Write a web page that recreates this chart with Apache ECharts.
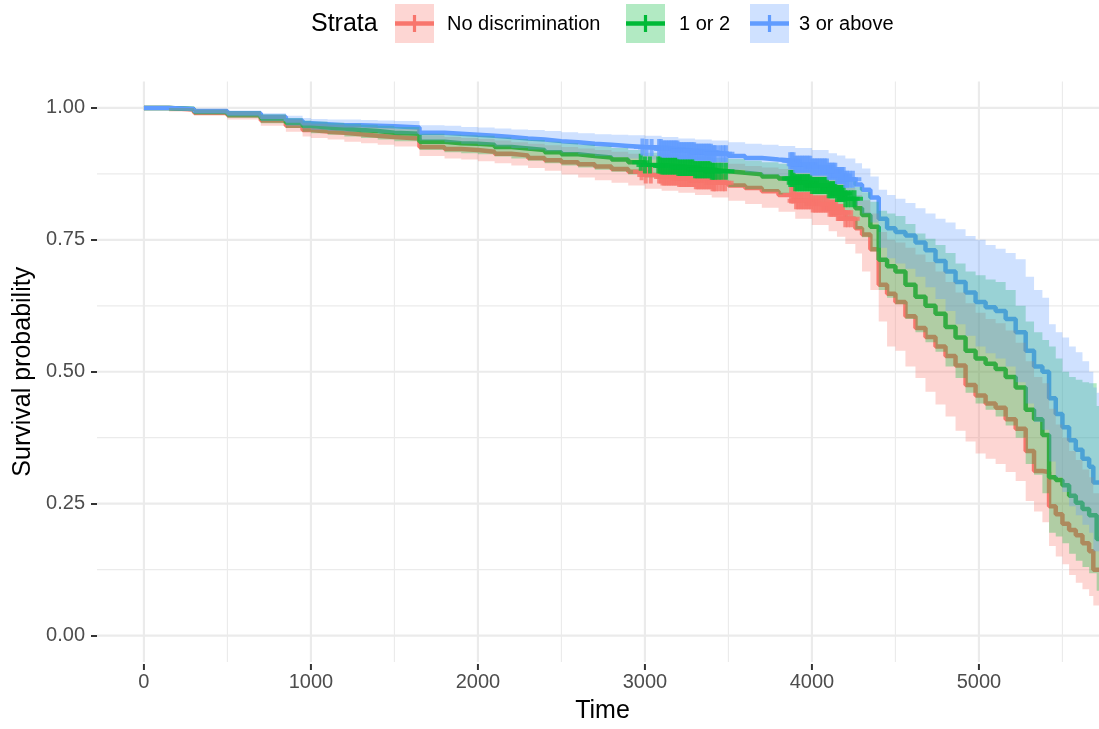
<!DOCTYPE html>
<html>
<head>
<meta charset="utf-8">
<script src="https://cdn.jsdelivr.net/npm/echarts@6/dist/echarts.min.js"></script>
<style>
  html, body { margin: 0; padding: 0; background: #ffffff; }
  #chart { width: 1099px; height: 729px; }
</style>
</head>
<body>
<div id="chart"></div>
<script>
// Kaplan-Meier survival by number of discrimination experiences.
// Shared time grid; each stratum has its estimate and 95% band on it.
const times = [0,150,300,500,700,850,950,1000,1100,1200,
  1300,1400,1500,1650,1800,1900,2000,2100,2200,2300,
  2400,2500,2600,2700,2800,2900,3000,3100,3200,3300,
  3400,3500,3600,3700,3800,3900,4000,4100,4150,4200,
  4260,4300,4350,4400,4450,4500,4560,4620,4680,4740,
  4800,4860,4920,4980,5040,5100,5160,5220,5280,5330,
  5380,5420,5460,5500,5540,5580,5620,5660,5685,5705,
  5760];

const survNone = [1,0.997,0.991,0.986,0.976,0.966,0.958,0.955,0.953,0.95,
  0.947,0.945,0.942,0.926,0.922,0.92,0.917,0.913,0.91,0.905,
  0.901,0.897,0.893,0.889,0.884,0.879,0.873,0.869,0.866,0.862,
  0.858,0.853,0.848,0.842,0.835,0.824,0.818,0.81,0.802,0.79,
  0.772,0.76,0.732,0.665,0.648,0.632,0.605,0.583,0.566,0.548,
  0.53,0.512,0.475,0.455,0.44,0.432,0.41,0.392,0.35,0.312,
  0.31,0.245,0.23,0.212,0.2,0.19,0.175,0.16,0.125,0.125,
  0.125];
const lowerNone = [1,0.993,0.985,0.978,0.966,0.955,0.946,0.943,0.94,0.936,
  0.933,0.93,0.927,0.909,0.904,0.902,0.899,0.895,0.891,0.886,
  0.881,0.874,0.868,0.863,0.858,0.853,0.847,0.843,0.839,0.835,
  0.83,0.824,0.818,0.811,0.803,0.79,0.778,0.766,0.756,0.742,
  0.724,0.69,0.655,0.595,0.548,0.54,0.51,0.488,0.462,0.438,
  0.415,0.388,0.368,0.345,0.335,0.325,0.31,0.293,0.255,0.235,
  0.215,0.17,0.15,0.135,0.115,0.1,0.088,0.075,0.057,0.057,
  0.057];
const upperNone = [1,1,0.997,0.993,0.986,0.978,0.972,0.97,0.968,0.966,
  0.964,0.962,0.96,0.948,0.945,0.943,0.941,0.938,0.935,0.932,
  0.929,0.926,0.923,0.92,0.917,0.913,0.91,0.907,0.904,0.9,
  0.897,0.894,0.89,0.887,0.884,0.877,0.872,0.864,0.857,0.848,
  0.835,0.825,0.8,0.765,0.75,0.745,0.735,0.722,0.708,0.69,
  0.67,0.65,0.63,0.612,0.6,0.592,0.578,0.555,0.52,0.49,
  0.478,0.43,0.4,0.375,0.35,0.333,0.315,0.3,0.27,0.27,
  0.27];

const survFew = [1,0.998,0.993,0.988,0.98,0.972,0.966,0.963,0.961,0.958,
  0.956,0.953,0.951,0.936,0.933,0.932,0.93,0.926,0.923,0.92,
  0.916,0.912,0.909,0.906,0.902,0.897,0.892,0.89,0.887,0.883,
  0.88,0.877,0.874,0.87,0.866,0.858,0.853,0.845,0.838,0.828,
  0.81,0.797,0.775,0.712,0.7,0.69,0.665,0.642,0.625,0.61,
  0.585,0.565,0.54,0.525,0.515,0.505,0.49,0.47,0.428,0.41,
  0.38,0.3,0.295,0.285,0.265,0.252,0.24,0.228,0.228,0.183,
  0.183];
const lowerFew = [1,0.994,0.987,0.981,0.971,0.962,0.955,0.952,0.949,0.946,
  0.943,0.94,0.937,0.92,0.916,0.914,0.912,0.908,0.904,0.9,
  0.895,0.891,0.887,0.883,0.879,0.874,0.868,0.865,0.862,0.858,
  0.854,0.85,0.846,0.841,0.836,0.827,0.821,0.811,0.803,0.79,
  0.77,0.755,0.728,0.655,0.64,0.628,0.6,0.575,0.556,0.538,
  0.51,0.488,0.46,0.44,0.428,0.415,0.398,0.375,0.325,0.305,
  0.27,0.195,0.188,0.175,0.155,0.142,0.13,0.118,0.118,0.085,
  0.085];
const upperFew = [1,1,0.997,0.994,0.988,0.981,0.976,0.974,0.972,0.97,
  0.968,0.966,0.964,0.951,0.949,0.948,0.947,0.944,0.941,0.939,
  0.936,0.933,0.93,0.927,0.924,0.92,0.915,0.913,0.911,0.908,
  0.905,0.903,0.9,0.897,0.894,0.888,0.884,0.878,0.872,0.864,
  0.85,0.84,0.822,0.805,0.8,0.795,0.78,0.762,0.752,0.74,
  0.725,0.705,0.69,0.683,0.675,0.67,0.655,0.625,0.595,0.575,
  0.56,0.548,0.525,0.5,0.49,0.485,0.48,0.478,0.478,0.435,
  0.435];

const survMany = [1,0.998,0.994,0.99,0.983,0.976,0.971,0.969,0.967,0.967,
  0.966,0.965,0.963,0.953,0.951,0.949,0.947,0.945,0.942,0.94,
  0.937,0.935,0.932,0.93,0.928,0.926,0.925,0.922,0.919,0.916,
  0.913,0.909,0.905,0.902,0.9,0.893,0.888,0.88,0.872,0.865,
  0.855,0.845,0.83,0.79,0.772,0.765,0.758,0.745,0.73,0.71,
  0.69,0.67,0.65,0.632,0.622,0.615,0.6,0.575,0.54,0.51,
  0.5,0.45,0.42,0.395,0.37,0.352,0.335,0.32,0.29,0.29,
  0.29];
const lowerMany = [1,0.995,0.989,0.984,0.975,0.966,0.961,0.958,0.956,0.955,
  0.954,0.952,0.95,0.938,0.935,0.932,0.93,0.927,0.924,0.921,
  0.918,0.915,0.912,0.909,0.907,0.904,0.902,0.898,0.895,0.891,
  0.888,0.883,0.878,0.874,0.871,0.862,0.856,0.846,0.836,0.827,
  0.815,0.8,0.783,0.735,0.715,0.705,0.695,0.68,0.66,0.638,
  0.615,0.59,0.568,0.548,0.535,0.525,0.51,0.48,0.44,0.405,
  0.39,0.33,0.3,0.272,0.245,0.228,0.21,0.195,0.16,0.16,
  0.16];
const upperMany = [1,1,0.998,0.995,0.99,0.985,0.981,0.979,0.978,0.978,
  0.977,0.976,0.975,0.967,0.966,0.964,0.963,0.961,0.959,0.958,
  0.956,0.954,0.952,0.95,0.949,0.948,0.947,0.945,0.942,0.94,
  0.938,0.935,0.932,0.93,0.928,0.924,0.92,0.914,0.91,0.904,
  0.895,0.885,0.87,0.845,0.835,0.828,0.82,0.81,0.8,0.79,
  0.783,0.77,0.757,0.75,0.74,0.733,0.725,0.713,0.68,0.655,
  0.64,0.59,0.575,0.565,0.548,0.537,0.52,0.5,0.47,0.46,
  0.46];

// Censoring times (end of follow-up) for each stratum
const censorNone = [2980,3005,3035,3085,3095,3105,3115,3125,3135,3145,3155,3165,3175,3185,3195,3205,3215,3225,
  3235,3245,3255,3265,3275,3285,3295,3305,3315,3325,3335,3345,3355,3365,3375,3385,3395,3405,3415,3425,3445,3465,3480,
  3875,3885,3895,3905,3915,3925,3935,3945,3955,3965,3975,3985,3995,4005,4015,4025,4035,4045,4055,4065,
  4075,4085,4095,4105,4115,4125,4135,4145,4155,4165,4175,4185,4200,4215,4235];
const censorFew = [2975,3000,3030,3080,3090,3100,3110,3120,3130,3140,3150,3160,3170,3180,3190,3200,3210,3220,
  3230,3240,3250,3260,3270,3280,3290,3300,3310,3320,3330,3340,3350,3360,3370,3380,3390,3400,3410,3420,3440,3460,3485,
  3870,3880,3890,3900,3910,3920,3930,3940,3950,3960,3970,3980,3990,4000,4010,4020,4030,4040,4050,4060,
  4070,4080,4090,4100,4110,4120,4130,4140,4150,4160,4170,4180,4190,4200,4215,4235,4255];
const censorMany = [2985,3010,3040,3085,3095,3105,3115,3125,3135,3145,3155,3165,3175,3185,3195,3205,3215,3225,
  3235,3245,3255,3265,3275,3285,3295,3305,3315,3325,3335,3345,3355,3365,3375,3385,3395,3405,3415,3425,3450,3470,3485,
  3870,3880,3890,3900,3910,3920,3930,3940,3950,3960,3970,3980,3990,4000,4010,4020,4030,4040,4050,4060,
  4070,4080,4090,4100,4110,4120,4130,4140,4150,4160,4170,4180,4190,4200,4210,4225,4245];

const strataNames = ['No discrimination', '1 or 2', '3 or above'];
const xTicks = [0, 1000, 2000, 3000, 4000, 5000];
const xMinorTicks = [500, 1500, 2500, 3500, 4500, 5500];
const yTicks = [0, 0.25, 0.5, 0.75, 1];
const yTickLabels = ['0.00', '0.25', '0.50', '0.75', '1.00'];
const yMinorTicks = [0.125, 0.375, 0.625, 0.875];

const palette = ['#F8766D', '#00BA38', '#619CFF'];
const FONT = '"Liberation Sans", Arial, Helvetica, sans-serif';

const strata = [
  { name: strataNames[0], surv: survNone, lower: lowerNone, upper: upperNone, censor: censorNone },
  { name: strataNames[1], surv: survFew, lower: lowerFew, upper: upperFew, censor: censorFew },
  { name: strataNames[2], surv: survMany, lower: lowerMany, upper: upperMany, censor: censorMany }
];

function rgba(hex, a) {
  const n = parseInt(hex.slice(1), 16);
  return 'rgba(' + ((n >> 16) & 255) + ',' + ((n >> 8) & 255) + ',' + (n & 255) + ',' + a + ')';
}

// survival value in effect at time t (right-continuous step function)
function survAt(surv, t) {
  let v = surv[0];
  for (let i = 0; i < times.length; i++) {
    if (times[i] <= t) v = surv[i]; else break;
  }
  return v;
}

function gridLineSeries(values, vertical, width) {
  return {
    type: 'custom', silent: true, z: 0,
    data: values.map(v => vertical ? [v, 0] : [0, v]),
    renderItem: function (params, api) {
      const cs = params.coordSys;
      if (vertical) {
        const x = api.coord([api.value(0), 0])[0];
        return { type: 'line', shape: { x1: x, y1: cs.y, x2: x, y2: cs.y + cs.height },
          style: { stroke: '#EBEBEB', lineWidth: width } };
      }
      const y = api.coord([0, api.value(1)])[1];
      return { type: 'line', shape: { x1: cs.x, y1: y, x2: cs.x + cs.width, y2: y },
        style: { stroke: '#EBEBEB', lineWidth: width } };
    }
  };
}

function bandSeries(s, color) {
  return {
    type: 'custom', silent: true, z: 3, name: s.name + ' CI',
    data: [[0, 1]],
    renderItem: function (params, api) {
      const pts = [];
      const n = times.length;
      for (let i = 0; i < n; i++) {
        const nx = i + 1 < n ? times[i + 1] : times[i];
        pts.push(api.coord([times[i], s.upper[i]]), api.coord([nx, s.upper[i]]));
      }
      for (let i = n - 1; i >= 0; i--) {
        const nx = i + 1 < n ? times[i + 1] : times[i];
        pts.push(api.coord([nx, s.lower[i]]), api.coord([times[i], s.lower[i]]));
      }
      return { type: 'polygon', shape: { points: pts }, style: { fill: rgba(color, 0.3) } };
    }
  };
}

// "+" censor mark
const plusPath = 'path://M-2,-8.5H2V-2H8.5V2H2V8.5H-2V2H-8.5V-2H-2Z';

const series = [
  gridLineSeries(xMinorTicks, true, 1.2),
  gridLineSeries(yMinorTicks, false, 1.2),
  gridLineSeries(xTicks, true, 2.2),
  gridLineSeries(yTicks, false, 2.2)
];
strata.forEach((s, k) => {
  series.push({
    type: 'line', name: s.name, step: 'end', z: 2, silent: true,
    showSymbol: false, symbol: 'none',
    lineStyle: { color: palette[k], width: 4.5 },
    data: times.map((t, i) => [t, s.surv[i]])
  });
});
strata.forEach((s, k) => series.push(bandSeries(s, palette[k])));
strata.forEach((s, k) => {
  series.push({
    type: 'scatter', name: s.name + ' censored', z: 4, silent: true,
    symbol: plusPath, symbolSize: 17,
    itemStyle: { color: palette[k] },
    data: s.censor.map(t => [t, survAt(s.surv, t)])
  });
});

// legend drawn as keys: band fill, line and censor cross
const legendKeys = [];
const keyX = [395, 626, 750];
const textX = [447, 679, 799];
strata.forEach((s, k) => {
  legendKeys.push(
    { type: 'rect', shape: { x: keyX[k], y: 4, width: 39, height: 39 }, style: { fill: rgba(palette[k], 0.3) } },
    { type: 'line', shape: { x1: keyX[k], y1: 23.5, x2: keyX[k] + 39, y2: 23.5 }, style: { stroke: palette[k], lineWidth: 4.5 } },
    { type: 'rect', shape: { x: keyX[k] + 17.9, y: 15, width: 3.2, height: 17 }, style: { fill: palette[k] } },
    { type: 'text', x: textX[k], y: 24, style: { text: s.name, font: '20px ' + FONT, fill: '#000000', textAlign: 'left', textVerticalAlign: 'middle' } }
  );
});
legendKeys.push({ type: 'text', x: 311, y: 24, style: { text: 'Strata', font: '25px ' + FONT, fill: '#000000', textAlign: 'left', textVerticalAlign: 'middle' } });

const GRID = { left: 97, right: 0, top: 81.5, bottom: 65.5 };
const chart = echarts.init(document.getElementById('chart'), null, { renderer: 'canvas' });
chart.setOption({
  animation: false,
  backgroundColor: '#ffffff',
  grid: GRID,
  xAxis: {
    type: 'value', min: -281, max: 5719,
    name: 'Time', nameLocation: 'middle', nameGap: 37,
    nameTextStyle: { fontSize: 25, fontFamily: FONT, color: '#000000', padding: [0, 0, 0, 9] },
    axisLine: { show: false, onZero: false },
    splitLine: { show: false },
    axisTick: { show: false },
    axisLabel: { customValues: xTicks, fontSize: 20, fontFamily: FONT, color: '#4D4D4D', margin: 10,
      formatter: v => String(v) }
  },
  yAxis: {
    type: 'value', min: -0.05, max: 1.05,
    name: 'Survival probability', nameLocation: 'middle', nameGap: 59,
    nameTextStyle: { fontSize: 25, fontFamily: FONT, color: '#000000' },
    axisLine: { show: false, onZero: false },
    splitLine: { show: false },
    axisTick: { show: true, length: 6, customValues: yTicks, lineStyle: { color: '#333333', width: 2 } },
    axisLabel: {
      customValues: yTicks, fontSize: 20, fontFamily: FONT, color: '#4D4D4D', margin: 12,
      formatter: v => {
        const i = yTicks.indexOf(v);
        return i >= 0 ? yTickLabels[i] : v.toFixed(2);
      }
    }
  },
  graphic: legendKeys,
  series: series
});

// tick marks under the panel, placed through the x axis scale
const panelBottom = chart.getHeight() - GRID.bottom;
const xTickMarks = xTicks.map(v => {
  const x = chart.convertToPixel({ xAxisIndex: 0 }, v);
  return { type: 'line', silent: true, z: 10,
    shape: { x1: x, y1: panelBottom + 0.5, x2: x, y2: panelBottom + 6.5 },
    style: { stroke: '#333333', lineWidth: 2 } };
});
chart.setOption({ graphic: legendKeys.concat(xTickMarks) });
</script>
</body>
</html>
